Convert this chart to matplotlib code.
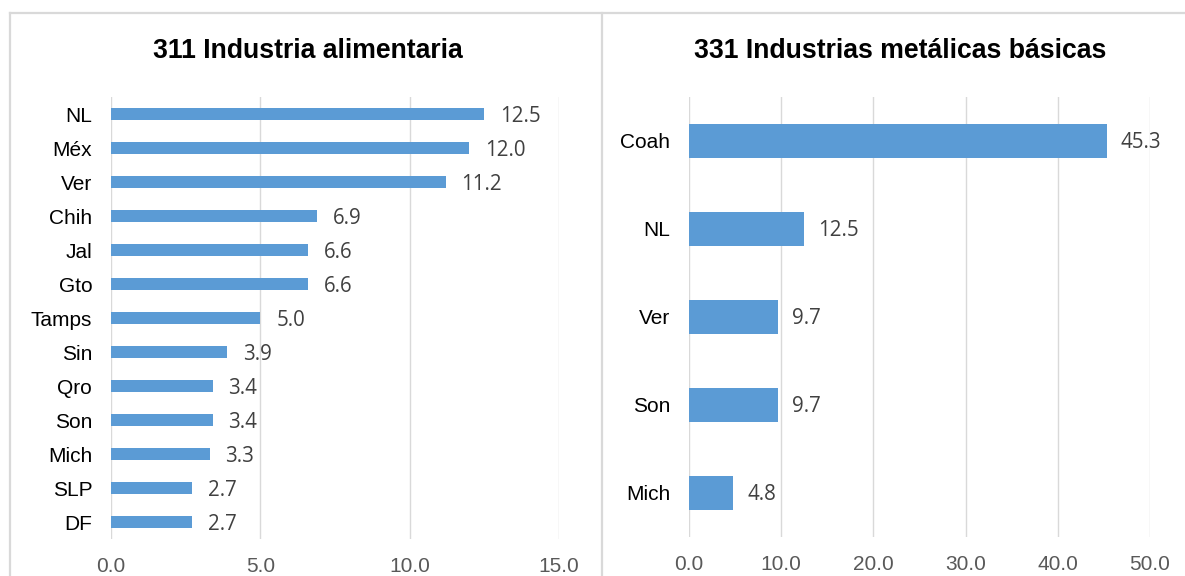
"""
Two-panel horizontal bar chart: state shares for industries 311 and 331.
"""
import matplotlib
matplotlib.use("Agg")
import matplotlib.pyplot as plt
from matplotlib.lines import Line2D

# Data
food_states = ["NL", "Méx", "Ver", "Chih", "Jal", "Gto", "Tamps",
               "Sin", "Qro", "Son", "Mich", "SLP", "DF"]
food_values = [12.5, 12.0, 11.2, 6.9, 6.6, 6.6, 5.0, 3.9, 3.4, 3.4, 3.3, 2.7, 2.7]

metal_states = ["Coah", "NL", "Ver", "Son", "Mich"]
metal_values = [45.3, 12.5, 9.7, 9.7, 4.8]

food_ticks = [0, 5, 10, 15]
metal_ticks = [0, 10, 20, 30, 40, 50]

BAR_COLOR = "#5B9BD5"
GRID_COLOR = "#D9D9D9"
LABEL_FONT = "Liberation Sans"
VALUE_FONT = "Open Sans"

W, H = 1185, 576
fig = plt.figure(figsize=(W / 100, H / 100), dpi=100)


def px_axes(x0, x1, y0, y1):
    """Axes from pixel box (top-left origin)."""
    return fig.add_axes([x0 / W, 1 - y1 / H, (x1 - x0) / W, (y1 - y0) / H])


def draw_panel(ax, states, values, ticks, xmax, title, title_x, gap):
    y = list(range(len(states)))
    ax.barh(y, values, height=0.38, color=BAR_COLOR, zorder=3)
    ax.set_ylim(len(states) - 0.5, -0.5)
    ax.set_xlim(0, xmax)
    ax.set_yticks(y)
    ax.set_yticklabels(states, fontsize=15, family=LABEL_FONT, color="black")
    ax.set_xticks(ticks)
    ax.set_xticklabels([f"{t:.1f}" for t in ticks], fontsize=15,
                       family=LABEL_FONT, color="#595959")
    ax.tick_params(axis="both", length=0)
    ax.tick_params(axis="y", pad=13.5)
    ax.tick_params(axis="x", pad=13)
    ax.grid(axis="x", color=GRID_COLOR, linewidth=1.0, zorder=0)
    ax.set_axisbelow(True)
    for s in ax.spines.values():
        s.set_visible(False)
    for yi, v in zip(y, values):
        ax.annotate(f"{v:.1f}", (v, yi), xytext=(gap, -2), textcoords="offset pixels",
                    va="center", ha="left", fontsize=14.8, family=VALUE_FONT,
                    color="#404040")
    fig.text(title_x / W, 1 - 51 / H, title, ha="center", va="center",
             fontsize=19.2, fontweight="bold", family=LABEL_FONT)


ax1 = px_axes(111, 559, 97, 539)
draw_panel(ax1, food_states, food_values, food_ticks, 15,
           "311 Industria alimentaria", 308, 16)

ax2 = px_axes(689, 1150, 97, 537)
draw_panel(ax2, metal_states, metal_values, metal_ticks, 50,
           "331 Industrias metálicas básicas", 900, 14)

# Panel frames
frame = dict(color=GRID_COLOR, linewidth=1.6, transform=fig.transFigure)
fig.add_artist(Line2D([10 / W, 10 / W], [0, 1 - 13 / H], **frame))
fig.add_artist(Line2D([10 / W, 1], [1 - 13 / H, 1 - 13 / H], **frame))
fig.add_artist(Line2D([601.5 / W, 601.5 / W], [0, 1 - 13 / H], **frame))

fig.savefig("out.png", dpi=100)
